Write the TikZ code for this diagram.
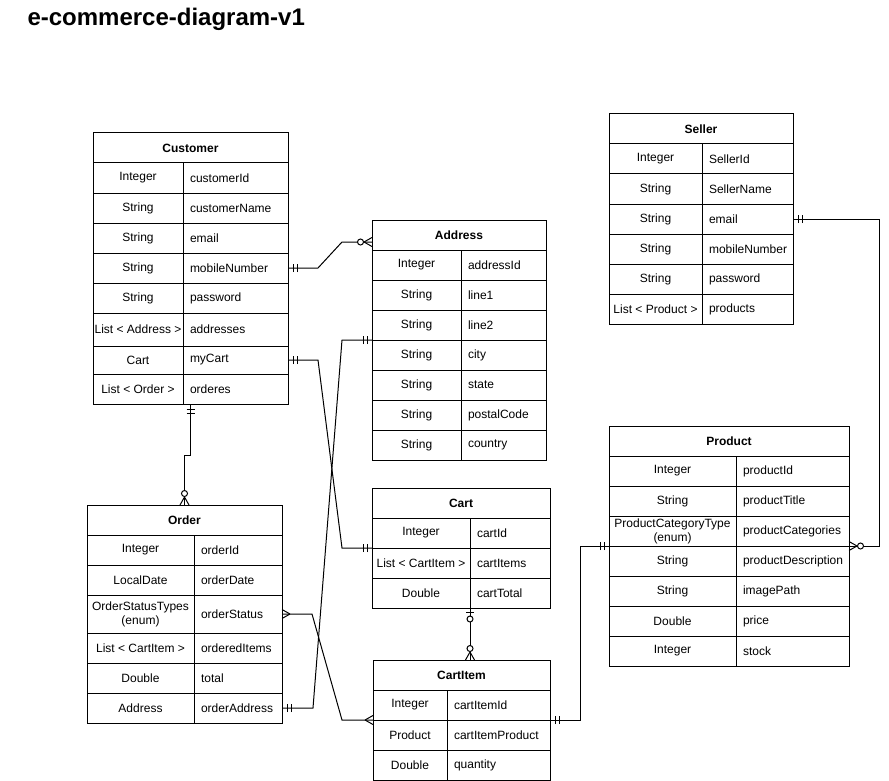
\documentclass[tikz,border=0pt]{standalone}
\usepackage{fontspec}
\setmainfont{Liberation Sans}
\usetikzlibrary{decorations.markings}

\tikzset{
  cell/.style={draw, anchor=north west, outer sep=0pt, inner sep=0pt, minimum height=30pt},
  thead/.style={cell, minimum width=#1, font=\fontsize{12}{14}\selectfont\bfseries},
  tcell/.style={cell, minimum width=#1, align=center},
  ncell/.style={cell, inner xsep=7pt, text width=#1, align=flush left},
  mand start/.style={postaction={decorate, decoration={markings,
    mark=at position 5pt with {\draw (0pt,-4pt) -- (0pt,4pt);},
    mark=at position 9pt with {\draw (0pt,-4pt) -- (0pt,4pt);}}}},
  mand end/.style={postaction={decorate, decoration={markings,
    mark=at position -5pt with {\draw (0pt,-4pt) -- (0pt,4pt);},
    mark=at position -9pt with {\draw (0pt,-4pt) -- (0pt,4pt);}}}},
  zmany end/.style={postaction={decorate, decoration={markings,
    mark=at position -8pt with {\draw (0pt,0pt) -- (8pt,4.5pt) (0pt,0pt) -- (8pt,-4.5pt);},
    mark=at position -11.5pt with {\draw[fill=white] (0pt,0pt) circle (3pt);}}}},
  many start/.style={postaction={decorate, decoration={markings,
    mark=at position 8pt with {\draw (0pt,0pt) -- (-8pt,4.5pt) (0pt,0pt) -- (-8pt,-4.5pt);}}}},
  many end/.style={postaction={decorate, decoration={markings,
    mark=at position -8pt with {\draw (0pt,0pt) -- (8pt,4.5pt) (0pt,0pt) -- (8pt,-4.5pt);}}}},
  zone start/.style={postaction={decorate, decoration={markings,
    mark=at position 4pt with {\draw (0pt,-4pt) -- (0pt,4pt);},
    mark=at position 11pt with {\draw[fill=white] (0pt,0pt) circle (3pt);}}}}
}

\begin{document}
\begin{tikzpicture}[x=1pt,y=-1pt,line width=1pt,font=\fontsize{12}{14}\selectfont]
\useasboundingbox (0,0) rectangle (889,781);
\node[anchor=base west, inner sep=0pt, font=\fontsize{24}{28}\selectfont\bfseries] (title) at (27,26) {e-commerce-diagram-v1};

% Customer
\node[thead=195pt, alias=cust-t0] (cust) at (93,133) {Customer};
\foreach \typ/\fld/\rh [count=\k] in {Integer/customerId/30, String/customerName/30, String/email/30, String/mobileNumber/30, String/password/30, List < Address >/addresses/33, Cart/myCart/28, List < Order >/orderes/30} {
  \pgfmathtruncatemacro\prev{\k-1}
  \node[tcell=90pt, minimum height=\rh*1pt] (cust-t\k) at (cust-t\prev.south west) {\typ};
  \node[ncell=91pt, minimum height=\rh*1pt] (cust-\k) at (cust-t\k.north east) {\fld};
}

% Address
\node[thead=174pt, alias=addr-t0] (addr) at (372,220) {Address};
\foreach \typ/\fld/\rh [count=\k] in {Integer/addressId/30, String/line1/30, String/line2/30, String/city/30, String/state/30, String/postalCode/30, String/country/30} {
  \pgfmathtruncatemacro\prev{\k-1}
  \node[tcell=89pt, minimum height=\rh*1pt] (addr-t\k) at (addr-t\prev.south west) {\typ};
  \node[ncell=71pt, minimum height=\rh*1pt] (addr-\k) at (addr-t\k.north east) {\fld};
}

% Seller
\node[thead=184pt, alias=sell-t0] (sell) at (609,114) {Seller};
\foreach \typ/\fld/\rh [count=\k] in {Integer/SellerId/30, String/SellerName/30, String/email/30, String/mobileNumber/30, String/password/30, List < Product >/products/30} {
  \pgfmathtruncatemacro\prev{\k-1}
  \node[tcell=93pt, minimum height=\rh*1pt] (sell-t\k) at (sell-t\prev.south west) {\typ};
  \node[ncell=77pt, minimum height=\rh*1pt] (sell-\k) at (sell-t\k.north east) {\fld};
}

% Product
\node[thead=240pt, alias=prod-t0] (prod) at (609,426) {Product};
\foreach \typ/\fld/\rh [count=\k] in {Integer/productId/30, String/productTitle/30, ProductCategoryType\\(enum)/productCategories/30, String/productDescription/30, String/imagePath/30, Double/price/30, Integer/stock/30} {
  \pgfmathtruncatemacro\prev{\k-1}
  \node[tcell=127pt, minimum height=\rh*1pt] (prod-t\k) at (prod-t\prev.south west) {\typ};
  \node[ncell=99pt, minimum height=\rh*1pt] (prod-\k) at (prod-t\k.north east) {\fld};
}

% Cart
\node[thead=178pt, alias=cart-t0] (cart) at (372,488) {Cart};
\foreach \typ/\fld/\rh [count=\k] in {Integer/cartId/30, List < CartItem >/cartItems/30, Double/cartTotal/30} {
  \pgfmathtruncatemacro\prev{\k-1}
  \node[tcell=98pt, minimum height=\rh*1pt] (cart-t\k) at (cart-t\prev.south west) {\typ};
  \node[ncell=66pt, minimum height=\rh*1pt] (cart-\k) at (cart-t\k.north east) {\fld};
}

% CartItem
\node[thead=177pt, alias=citem-t0] (citem) at (373,660) {CartItem};
\foreach \typ/\fld/\rh [count=\k] in {Integer/cartItemId/30, Product/cartItemProduct/30, Double/quantity/30} {
  \pgfmathtruncatemacro\prev{\k-1}
  \node[tcell=74pt, minimum height=\rh*1pt] (citem-t\k) at (citem-t\prev.south west) {\typ};
  \node[ncell=89pt, minimum height=\rh*1pt] (citem-\k) at (citem-t\k.north east) {\fld};
}

% Order
\node[thead=195pt, alias=ord-t0] (ord) at (87,505) {Order};
\foreach \typ/\fld/\rh [count=\k] in {Integer/orderId/30, LocalDate/orderDate/30, OrderStatusTypes\\(enum)/orderStatus/38, List < CartItem >/orderedItems/30, Double/total/30, Address/orderAddress/30} {
  \pgfmathtruncatemacro\prev{\k-1}
  \node[tcell=107pt, minimum height=\rh*1pt] (ord-t\k) at (ord-t\prev.south west) {\typ};
  \node[ncell=74pt, minimum height=\rh*1pt] (ord-\k) at (ord-t\k.north east) {\fld};
}

% relations
\draw[mand start, zmany end] (cust-4.east) -- ++(30,0) -- ([xshift=-30pt,yshift=-7pt]addr.west) -- ([yshift=-7pt]addr.west);
\draw[mand start, mand end] (cust-7.east) -- ++(30,0) -- ([xshift=-30pt]cart-t1.south west) -- (cart-t1.south west);
\draw[mand start, mand end] (ord-6.east) -- ++(31,0) -- ([xshift=-30pt]addr-t3.south west) -- (addr-t3.south west);
\draw[mand start, zmany end] (cust.center |- cust-t8.south) -- ++(0,51) -| (ord.north);
\draw[many start, many end] (ord-3.east) -- ++(30,0) -- ([xshift=-31pt]citem-t1.south west) -- (citem-t1.south west);
\draw[zone start, zmany end] (cart-t3.south east) -- (cart-t3.south east |- citem.north);
\draw[mand start, mand end] (citem-1.south east) -- ++(30,0) |- (prod-t3.south west);
\draw[mand start, zmany end] (sell-3.east) -- ++(86,0) |- (prod-3.south east);
\end{tikzpicture}
\end{document}
